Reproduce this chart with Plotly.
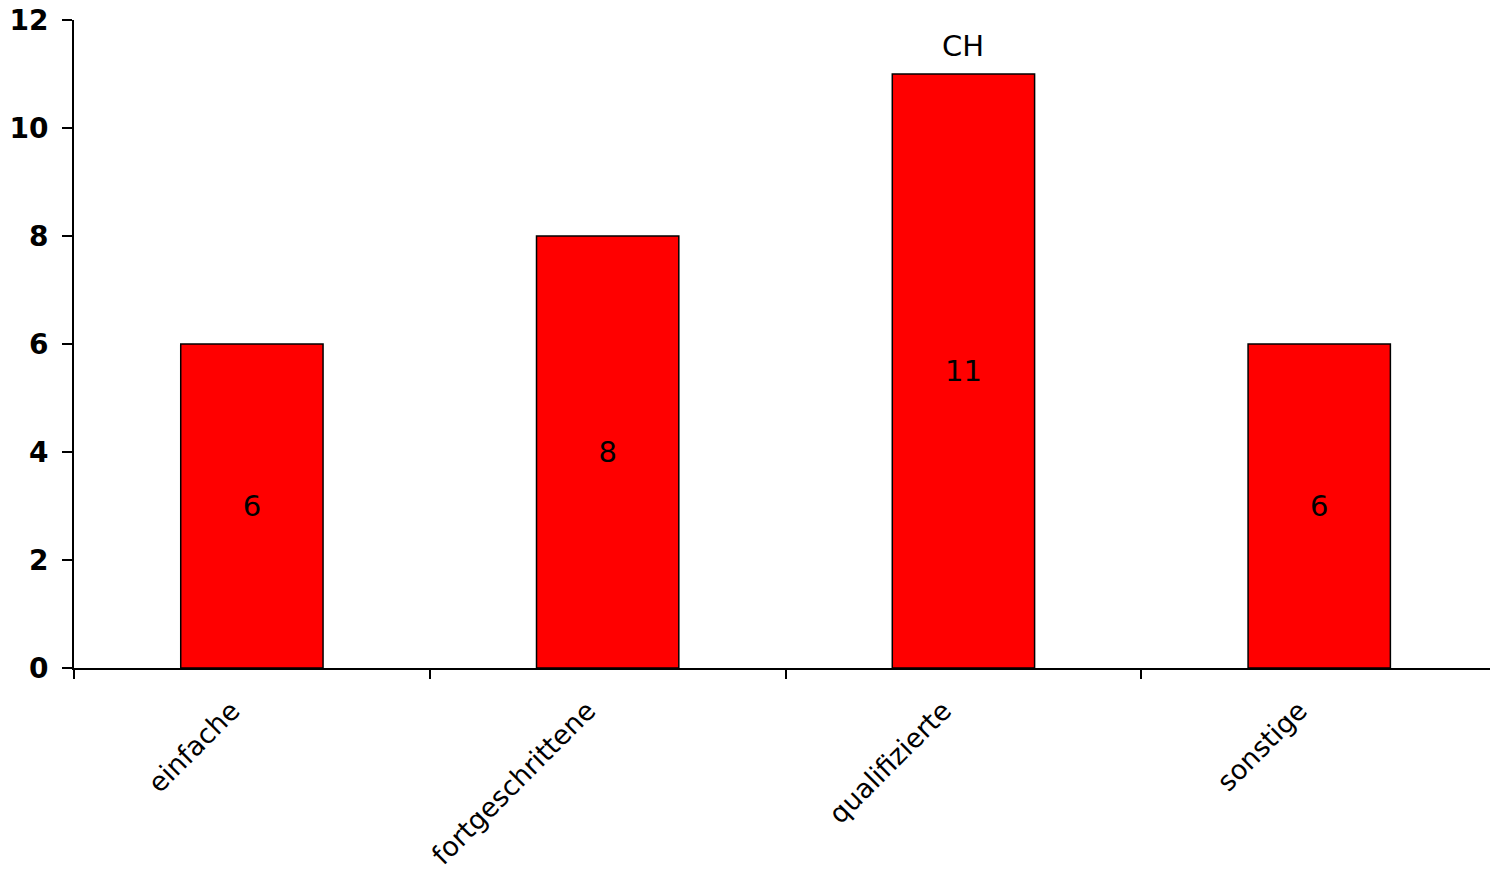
import plotly.graph_objects as go

categories = ["einfache", "fortgeschrittene", "qualifizierte", "sonstige"]
values = [6, 8, 11, 6]
series_name = "CH"
y_ticks = [0, 2, 4, 6, 8, 10, 12]

FONT = "DejaVu Sans, Verdana, sans-serif"

fig = go.Figure()
fig.add_trace(go.Bar(
    x=categories, y=values, name=series_name,
    marker=dict(color="#ff0000", line=dict(color="black", width=1.5)),
    width=0.4,
    text=[str(v) for v in values],
    textposition="inside", insidetextanchor="middle",
    textangle=0,
    textfont=dict(family=FONT, size=29, color="black"),
))

top_idx = values.index(max(values))
fig.add_annotation(
    x=categories[top_idx], y=values[top_idx], text=series_name,
    showarrow=False, yanchor="bottom", yshift=9,
    font=dict(family=FONT, size=29, color="black"),
)

fig.update_layout(
    width=1491, height=876,
    margin=dict(l=74, r=1, t=20, b=208),
    paper_bgcolor="white", plot_bgcolor="white",
    showlegend=False,
    font=dict(family=FONT, color="black"),
)
fig.update_xaxes(
    type="category", range=[-0.5, 3.48],
    showline=True, linecolor="black", linewidth=2,
    ticks="outside", ticklen=9, tickwidth=2, tickcolor="black",
    tickson="boundaries",
    tickangle=-45,
    ticklabelshift=-20, ticklabelstandoff=14,
    tickfont=dict(family=FONT, size=27, color="black"),
    showgrid=False, zeroline=False, automargin=False,
)
fig.update_yaxes(
    range=[0, 12], tickvals=y_ticks,
    ticktext=[f"<b>{t}</b>" for t in y_ticks],
    showline=True, linecolor="black", linewidth=2,
    ticks="outside", ticklen=10, tickwidth=2, tickcolor="black",
    ticklabelstandoff=8,
    tickfont=dict(family=FONT, size=28, color="black"),
    showgrid=False, zeroline=False, automargin=False,
)

fig.write_html(
    "out.html",
    config={"displayModeBar": False},
    post_script="document.body.style.margin='0';document.body.style.overflow='hidden';",
)
